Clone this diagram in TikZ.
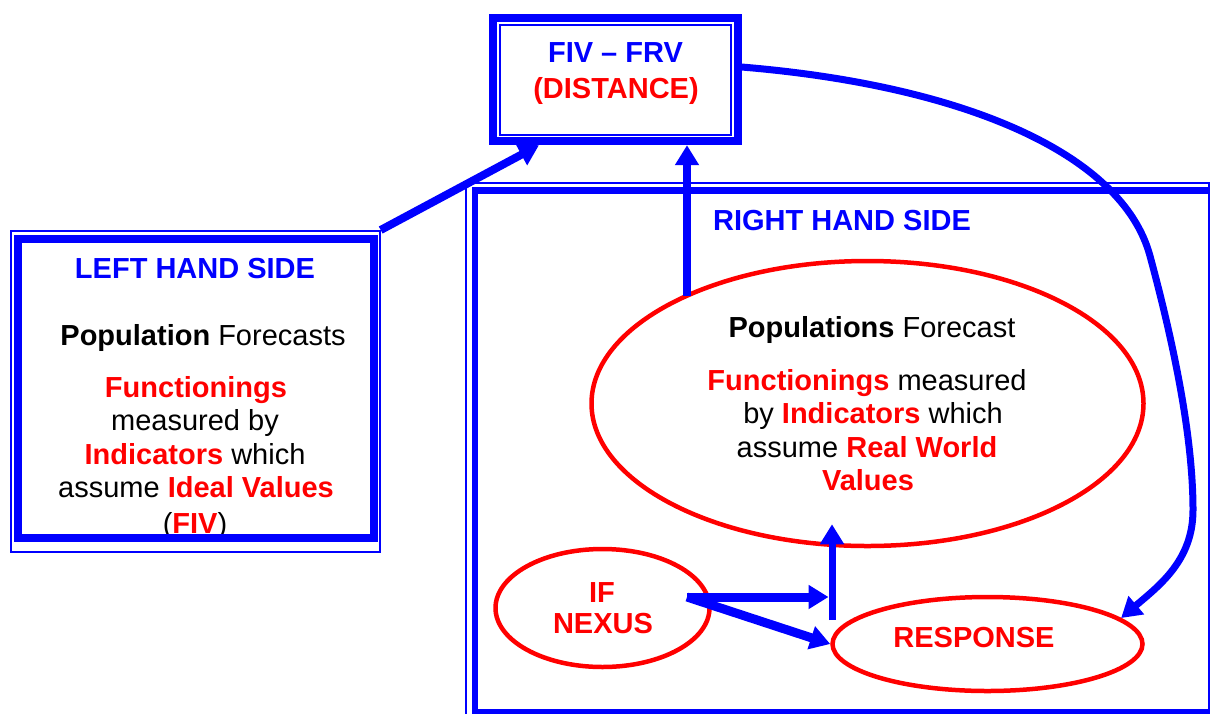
\documentclass[tikz,border=0pt]{standalone}
\usepackage{fontspec}
\setmainfont{Liberation Sans}
\usetikzlibrary{arrows.meta,shapes.geometric,calc}
\definecolor{bl}{RGB}{0,0,255}
\definecolor{rd}{RGB}{255,0,0}
\newcommand\dfs{\fontsize{29}{33.5}\selectfont}
\newcommand\rbf[1]{\textcolor{rd}{\bfseries #1}}
\begin{document}
\begin{tikzpicture}[x=1pt,y=-1pt,
  t/.style={anchor=base, inner sep=0pt, font=\dfs},
  tb/.style={t, text=bl, font=\dfs\bfseries},
  tr/.style={t, text=rd, font=\dfs\bfseries},
  thinbox/.style={draw=bl, line width=2pt, inner sep=0pt, rectangle},
  thickbox/.style={draw=bl, line width=8pt, inner sep=0pt, rectangle},
  oval/.style={ellipse, draw=rd, line width=4.5pt, inner sep=0pt},
  arr/.style={draw=bl, line width=7.5pt, -{Triangle[length=20pt,width=23pt]}},
]
\useasboundingbox (0,0) rectangle (1210,713);
\clip (0,0) rectangle (1210,713);

% texts
\node[tb] (tt1) at (615.5,62) {FIV – FRV};
\node[tr] (tt2) at (616,98) {(DISTANCE)};

\node[tb] (lh) at (195,278) {LEFT HAND SIDE};
\node[t] (lp) at (203,345) {\textbf{Population} Forecasts};
\node[t] (l1) at (196,397) {\rbf{Functionings}};
\node[t] (l2) at (195,430.5) {measured by};
\node[t] (l3) at (195,464) {\rbf{Indicators} which};
\node[t] (l4) at (196,497.5) {assume \rbf{Ideal Values}};
\node[t] (l5) at (195,533) {(\rbf{FIV})};

\node[tb] (rh) at (842,230) {RIGHT HAND SIDE};
\node[t] (r0) at (872,337) {\textbf{Populations} Forecast};
\node[t] (r1) at (867,390) {\rbf{Functionings} measured};
\node[t] (r2) at (873,423.5) {by \rbf{Indicators} which};
\node[t] (r3) at (867,457) {assume \rbf{Real World}};
\node[t] (r4) at (868,490) {\rbf{Values}};
\node[tr] (n1) at (602,602) {IF};
\node[tr] (n2) at (603,633) {NEXUS};
\node[tr] (rs) at (974,647) {RESPONSE};

% right hand side frame
\node[thinbox, minimum width=743.3pt, minimum height=557pt] (rout) at (837.65,461.5) {};
\node[thickbox, line width=6.5pt, minimum width=765pt, minimum height=521.5pt] (rin) at (857.5,451.25) {};

% left hand side frame
\node[thinbox, minimum width=369.2pt, minimum height=320.7pt] (lout) at (195.1,391.35) {};
\node[thickbox, minimum width=356pt, minimum height=299pt] (lin) at (195.5,388.5) {};

% top box
\node[thickbox, minimum width=244.2pt, minimum height=122.9pt] (tout) at (615.4,79.75) {};
\node[thinbox, minimum width=230.3pt, minimum height=110pt] (tin) at (615.35,79.5) {};

% ellipses
\node[oval, minimum width=552pt, minimum height=285pt] (big) at (867.5,403.5) {};
\node[oval, minimum width=214pt, minimum height=118pt] (nexus) at (602.5,608) {};
\node[oval, minimum width=310pt, minimum height=94pt] (resp) at (987.5,644) {};

% connectors
\draw[arr, line width=8pt] (lout.north east) -- ($(tout.south west)!0.197!(tout.south east)$);
\coordinate (vx) at (687,296);
\draw[arr] (vx) -- (vx |- tout.south);
\draw[arr, line width=7pt] ([yshift=12.75pt]tout.east)
  .. controls (960,85) and (1122,152) .. (1150,256)
  .. controls (1170,330) and (1193,430) .. (1193,510)
  .. controls (1193,560) and (1160,585) .. (resp.11.3);
\coordinate (src) at (687,597);
\coordinate (j) at (832,620);
\draw[arr, line width=9pt, shorten >=3.5pt] (src) -- (src -| j);
\draw[arr, line width=9pt] (src) -- (resp.west);
\draw[arr, line width=7pt] (j) -- ($(j |- big.south)+(0,-24)$);
\end{tikzpicture}
\end{document}
